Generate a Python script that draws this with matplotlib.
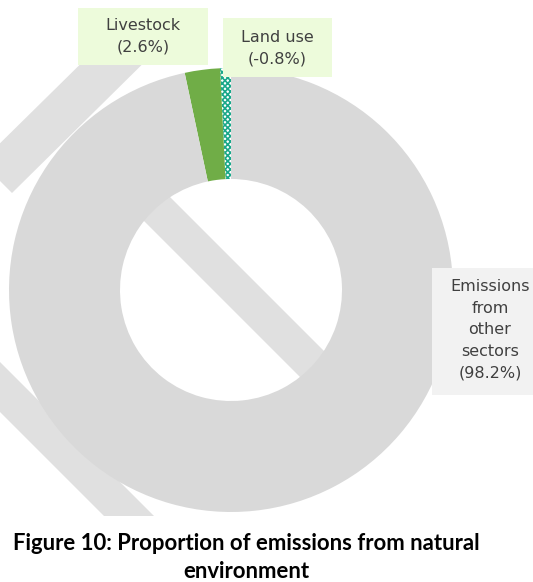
import matplotlib
matplotlib.use("Agg")
import matplotlib.pyplot as plt
from matplotlib.patches import Polygon, Rectangle

# data
labels = ["Land use", "Livestock", "Emissions\nfrom\nother\nsectors"]
shares = [-0.8, 2.6, 98.2]
colors = ["white", "#70ad47", "#d9d9d9"]
hatches = ["xxxxxx", None, None]

W, H = 533, 582

def px(x, y):
    # pixel coords (y down) -> axes coords
    return (x, H - y)

plt.rcParams["hatch.linewidth"] = 1.2
fig = plt.figure(figsize=(W / 100, H / 100), dpi=100)
ax = fig.add_axes([0, 0, 1, 1])

# faint watermark stripes behind the chart
wm = "#e0e0e0"
for pts in [
    [(12, 193), (-19, 162), (115, 30), (177, 30)],
    [(120, 147), (340, 367), (310, 387), (90, 167)],
    [(-50, 362), (104, 516), (154, 516), (-50, 312)],
]:
    ax.add_patch(Polygon([px(*p) for p in pts], closed=True, fc=wm, ec="none", zorder=0))

wedges, _ = ax.pie([abs(v) for v in shares], colors=colors, startangle=90,
                   counterclock=True, center=px(231, 290), radius=222,
                   wedgeprops=dict(width=111, linewidth=0))
for w, h in zip(wedges, hatches):
    w.set_zorder(2)
    if h:
        w.set_hatch(h)
        w.set_edgecolor("#1aa88a")
        w.set_linewidth(0)

# label boxes
txt = "#404040"
boxes = [
    (223, 18, 109, 59, "#edfbdb", 277, 48),
    (78, 8, 130, 57, "#edfbdb", 143, 36.5),
    (432, 268, 110, 127, "#f2f2f2", 490, 330),
]
for (bx, by, bw, bh, bc, tx, ty), lab, v in zip(boxes, labels, shares):
    ax.add_patch(Rectangle(px(bx, by + bh), bw, bh, fc=bc, ec="none", zorder=3))
    ax.text(*px(tx, ty), f"{lab}\n({v}%)", ha="center", va="center",
            fontsize=11.5, color=txt, zorder=4, linespacing=1.55)

ax.text(*px(246, 557.5), "Figure 10: Proportion of emissions from natural\nenvironment",
        ha="center", va="center", fontsize=15.9, fontweight="bold",
        family="Lato", color="black", linespacing=1.42)

ax.set_xlim(0, W)
ax.set_ylim(0, H)
ax.set_aspect("equal")
ax.axis("off")

fig.savefig("out.png", dpi=100)
